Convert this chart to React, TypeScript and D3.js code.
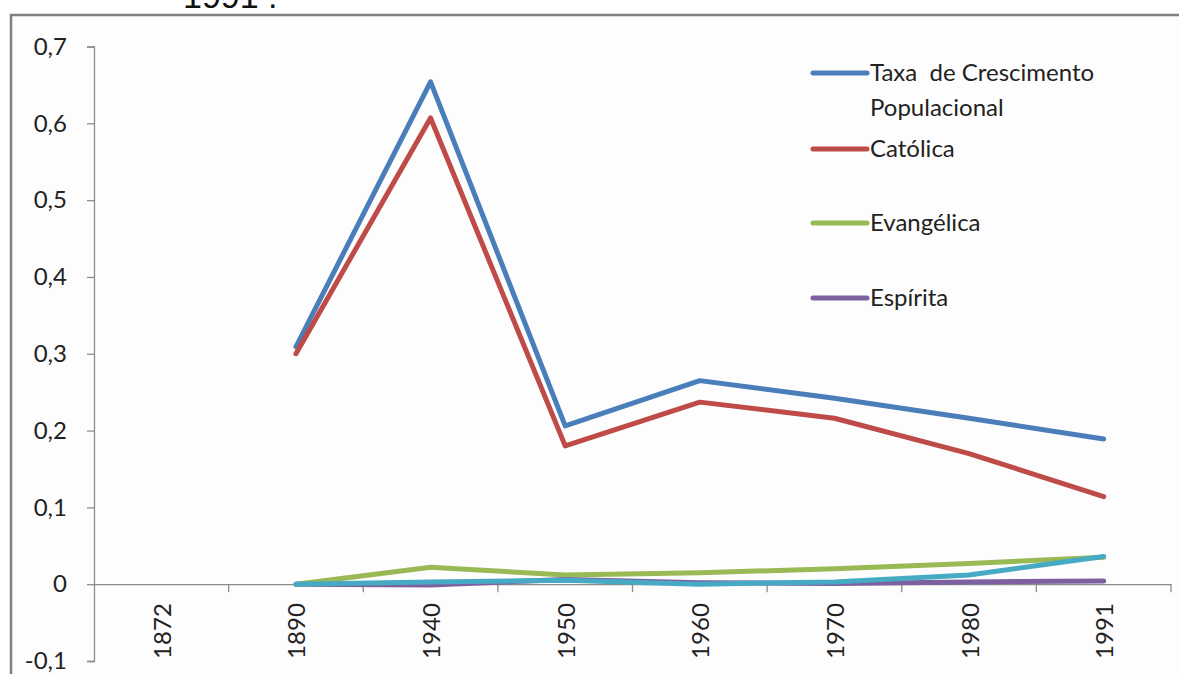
import React, { useEffect, useRef } from "react";
import * as d3 from "d3";

const years = ["1872", "1890", "1940", "1950", "1960", "1970", "1980", "1991"];
const yTicks = [-0.1, 0, 0.1, 0.2, 0.3, 0.4, 0.5, 0.6, 0.7];

// null = no value for that census year
const taxa = [null, 0.309, 0.654, 0.206, 0.265, 0.242, 0.216, 0.189];
const catolica = [null, 0.3, 0.607, 0.18, 0.237, 0.216, 0.17, 0.114];
const evangelica = [null, 0, 0.022, 0.012, 0.015, 0.02, 0.027, 0.035];
const espirita = [null, 0, -0.001, 0.006, 0.002, 0.001, 0.003, 0.004];
const outras = [null, 0, 0.003, 0.005, 0, 0.003, 0.012, 0.036];

type Series = { name: string; values: (number | null)[]; color: string; legend: boolean };

const series: Series[] = [
  { name: "Taxa  de Crescimento|Populacional", values: taxa, color: "#4a7ebb", legend: true },
  { name: "Católica", values: catolica, color: "#be4b48", legend: true },
  { name: "Evangélica", values: evangelica, color: "#98b954", legend: true },
  { name: "Espírita", values: espirita, color: "#7d60a0", legend: true },
  { name: "Outras", values: outras, color: "#46aac5", legend: false },
];

const legendRows = [73, 149, 223, 298];

export default function App() {
  const ref = useRef<SVGSVGElement>(null);
  const width = 1179;
  const height = 674;
  const marginLeft = 94;
  const plotRight = 1171;
  const font = "Lato, 'Open Sans', sans-serif";

  useEffect(() => {
    const svg = d3.select(ref.current);
    svg.selectAll("*").remove();

    // title cut off at the top of the page
    svg
      .append("text")
      .attr("x", 183)
      .attr("y", 8)
      .attr("font-family", "'Liberation Sans', Arial, sans-serif")
      .attr("font-size", 34)
      .attr("fill", "#111")
      .text("1991 .");

    // chart frame
    svg
      .append("rect")
      .attr("x", 11)
      .attr("y", 15)
      .attr("width", 1300)
      .attr("height", 800)
      .attr("fill", "#fdfdfd")
      .attr("stroke", "#7f7f7f")
      .attr("stroke-width", 2.5);

    const x = d3.scaleBand().domain(years).range([marginLeft, plotRight]);
    const y = d3.scaleLinear().domain([-0.1, 0.7]).range([661, 46.5]);

    // vertical axis
    const yAxis = svg
      .append("g")
      .attr("transform", `translate(${marginLeft},0)`)
      .call(
        d3
          .axisLeft(y)
          .tickValues(yTicks)
          .tickSize(7)
          .tickSizeOuter(7)
          .tickPadding(20)
          .tickFormat((d) => String(Math.round(+d * 10) / 10).replace(".", ","))
      );
    yAxis.selectAll("path, line").attr("stroke", "#8c8c8c").attr("stroke-width", 1.3);
    yAxis
      .selectAll("text")
      .attr("font-family", font)
      .attr("font-size", 24)
      .attr("fill", "#222");

    // horizontal axis at zero
    const xAxis = svg
      .append("g")
      .attr("transform", `translate(0,${y(0)})`)
      .call(d3.axisBottom(x).tickSize(0).tickSizeOuter(0).tickPadding(0));
    xAxis.select(".domain").attr("stroke", "#8c8c8c").attr("stroke-width", 1.3);
    xAxis
      .selectAll(".tick text")
      .attr("transform", "rotate(-90)")
      .attr("text-anchor", "end")
      .attr("dominant-baseline", "central")
      .attr("x", -19)
      .attr("y", 0)
      .attr("dy", null)
      .attr("font-family", font)
      .attr("font-size", 24)
      .attr("fill", "#222");
    // boundary ticks between categories
    xAxis
      .selectAll(".bound")
      .data(years)
      .join("line")
      .attr("class", "bound")
      .attr("x1", (d) => (x(d) as number) + x.bandwidth())
      .attr("x2", (d) => (x(d) as number) + x.bandwidth())
      .attr("y1", 0)
      .attr("y2", 8)
      .attr("stroke", "#8c8c8c")
      .attr("stroke-width", 1.3);

    const line = d3
      .line<number | null>()
      .defined((d) => d !== null)
      .x((d, i) => (x(years[i]) as number) + x.bandwidth() / 2)
      .y((d) => y(d as number));

    svg
      .append("g")
      .selectAll("path")
      .data(series)
      .join("path")
      .attr("fill", "none")
      .attr("stroke", (s) => s.color)
      .attr("stroke-width", 5)
      .attr("stroke-linejoin", "round")
      .attr("stroke-linecap", "round")
      .attr("d", (s) => line(s.values));

    // legend
    const legend = svg
      .append("g")
      .selectAll("g")
      .data(series.filter((s) => s.legend))
      .join("g")
      .attr("transform", (s, i) => `translate(813,${legendRows[i]})`);
    legend
      .append("line")
      .attr("x1", 0)
      .attr("x2", 54)
      .attr("stroke", (s) => s.color)
      .attr("stroke-width", 5)
      .attr("stroke-linecap", "round");
    legend
      .append("text")
      .attr("x", 57)
      .attr("font-family", font)
      .attr("font-size", 24)
      .attr("fill", "#222")
      .selectAll("tspan")
      .data((s) => s.name.split("|"))
      .join("tspan")
      .attr("x", 57)
      .attr("y", (d, i) => i * 35)
      .attr("dy", "0.35em")
      .style("white-space", "pre")
      .text((d) => d);
  }, []);

  return (
    <svg
      ref={ref}
      width={width}
      height={height}
      style={{ position: "absolute", left: 0, top: 0, background: "#fff" }}
    ></svg>
  );
}
